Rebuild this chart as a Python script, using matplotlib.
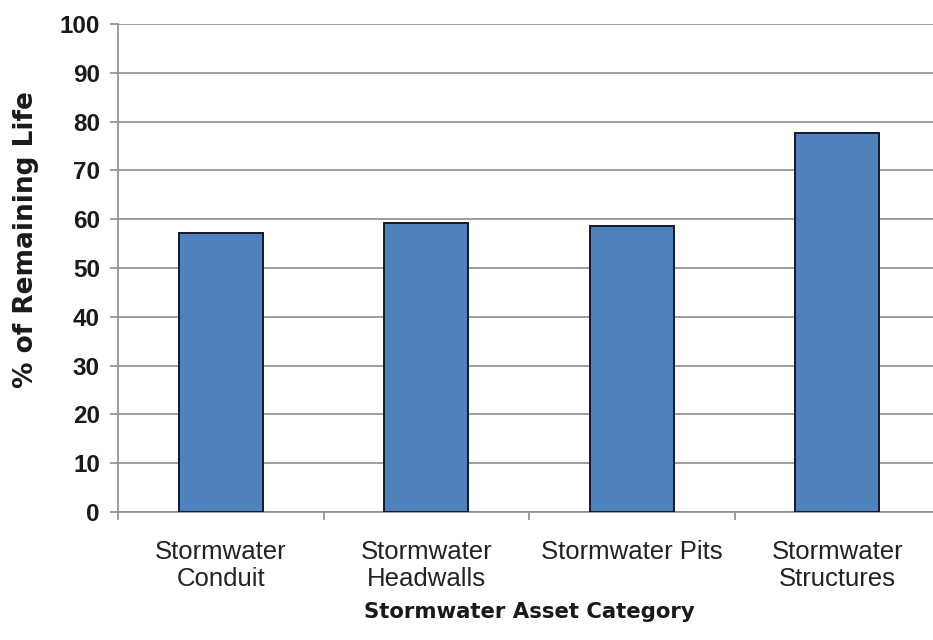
import numpy as np
import matplotlib
matplotlib.use("Agg")
import matplotlib.pyplot as plt
from matplotlib.ticker import FixedLocator, NullFormatter

# Remaining life by stormwater asset type
categories = ["Stormwater\nConduit", "Stormwater\nHeadwalls", "Stormwater Pits", "Stormwater\nStructures"]
remaining_life = [57.2, 59.3, 58.6, 77.7]
y_ticks = [0, 10, 20, 30, 40, 50, 60, 70, 80, 90, 100]

plt.rcParams['font.family'] = ['Liberation Sans', 'DejaVu Sans']

fig = plt.figure(figsize=(9.33, 6.4), dpi=100)
ax = fig.add_axes([118 / 933, 1 - 512 / 640, 822 / 933, 488 / 640])

x = np.arange(len(categories))
ax.bar(x, remaining_life, width=0.41, color="#4F81BD", edgecolor="#14182a",
       linewidth=1.4, zorder=3)

ax.set_xlim(-0.5, len(categories) - 0.5)
ax.set_ylim(0, 100)
ax.set_yticks(y_ticks)
ax.yaxis.grid(True, color="#8c8c8c", linewidth=1.2, zorder=0)

# tick marks sit on the category boundaries, labels at the bar centres
ax.xaxis.set_major_locator(FixedLocator(np.arange(-0.5, len(categories), 1.0)))
ax.xaxis.set_major_formatter(NullFormatter())
ax.xaxis.set_minor_locator(FixedLocator(x))
ax.set_xticklabels(categories, minor=True, fontsize=18.5, color="#222222",
                   linespacing=1.18)
ax.tick_params(axis="x", which="minor", length=0, pad=20)
ax.tick_params(axis="x", which="major", length=6, color="#8c8c8c", width=1.2)
ax.tick_params(axis="y", length=6, color="#8c8c8c", width=1.2, pad=7)
for lbl in ax.get_yticklabels():
    lbl.set_fontsize(17.5)
    lbl.set_fontweight("bold")
    lbl.set_color("#1a1a1a")

for side in ["top", "right"]:
    ax.spines[side].set_visible(False)
for side in ["left", "bottom"]:
    ax.spines[side].set_color("#8c8c8c")
    ax.spines[side].set_linewidth(1.2)

fig.text(26 / 933, 1 - 240 / 640, "% of Remaining Life", fontsize=19,
         fontweight="bold", rotation=90, ha="center", va="center",
         family=["DejaVu Sans"], color="#1a1a1a")
fig.text(529 / 933, 1 - 618 / 640, "Stormwater Asset Category", fontsize=15.3,
         fontweight="bold", ha="center", va="baseline",
         family=["DejaVu Sans"], color="#1a1a1a")

plt.savefig("out.png", dpi=100)
